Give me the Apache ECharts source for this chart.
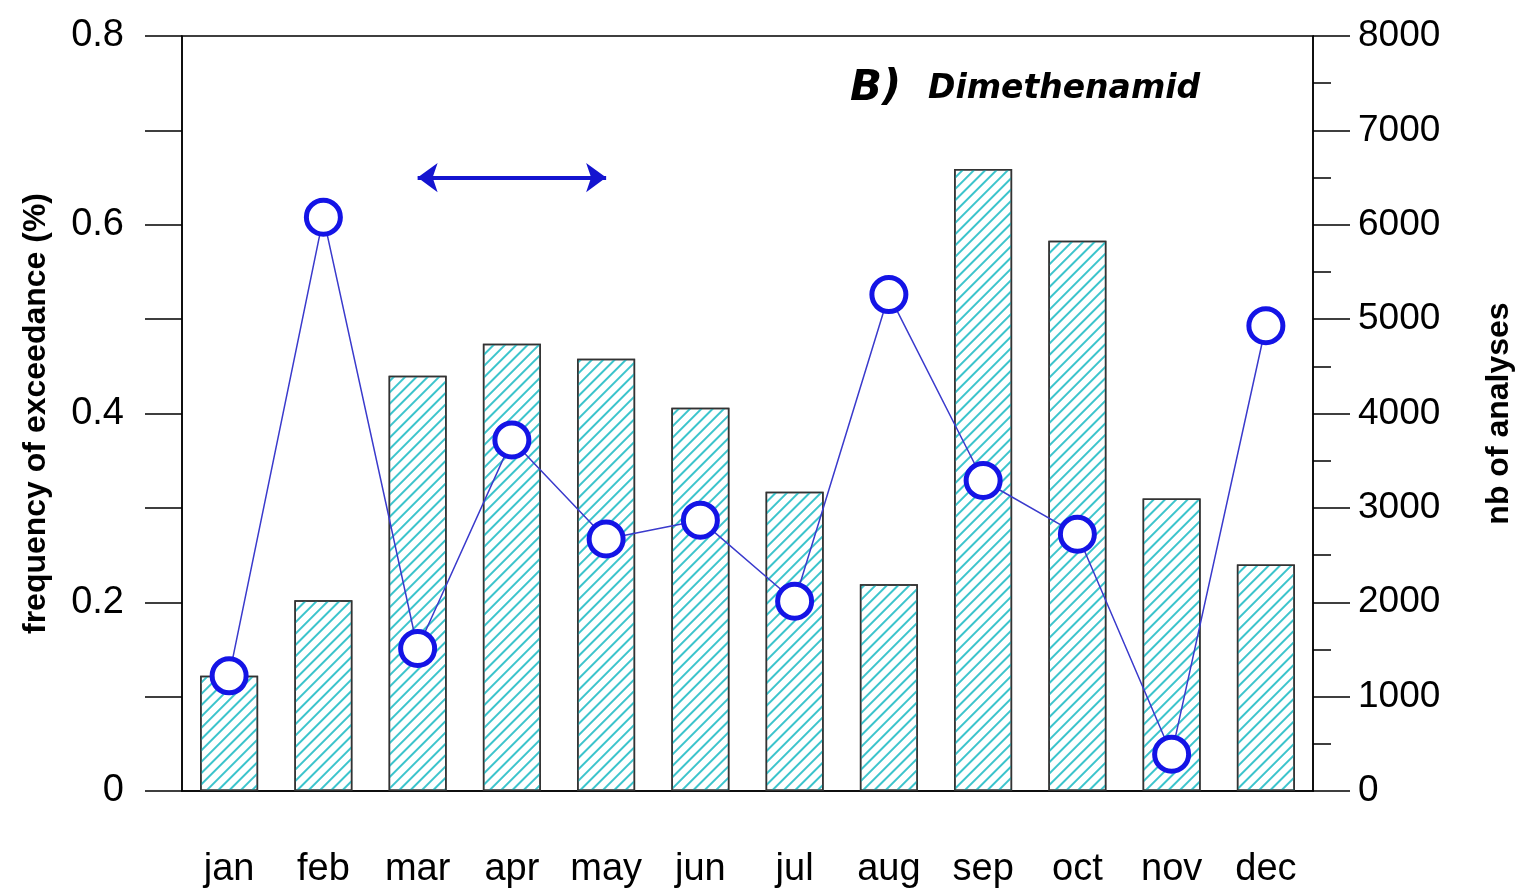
<!DOCTYPE html>
<html lang="en">
<head>
    <meta charset="UTF-8">
    <title>Dimethenamid</title>
    <script src="https://cdn.jsdelivr.net/npm/echarts@6/dist/echarts.min.js"></script>
</head>
<body style="margin:0">
<div id="main" style="width: 1523px; height: 895px;"></div>
</body>
<script>
    var months = ['jan', 'feb', 'mar', 'apr', 'may', 'jun', 'jul', 'aug', 'sep', 'oct', 'nov', 'dec']
    // nb of analyses (right axis, bars)
    var analyses = [1220, 2020, 4400, 4740, 4580, 4060, 3170, 2190, 6590, 5830, 3100, 2400]
    // frequency of exceedance (left axis, line)
    var frequency = [0.122, 0.608, 0.151, 0.372, 0.267, 0.287, 0.201, 0.526, 0.329, 0.272, 0.039, 0.493]
    // application period arrow
    var arrowSpan = ['mar', 'may']
    var arrowLevel = 0.65

    var font = 'Arial, "Liberation Sans", sans-serif'
    var myChart = echarts.init(document.getElementById("main"))
    var option = {
        animation: false,
        textStyle: { fontFamily: font },
        grid: { left: 182, right: 209, top: 36, bottom: 104, show: true, borderColor: '#000', borderWidth: 1.5 },
        graphic: [{
            type: 'text', left: 850, top: 68,
            style: { text: 'B)', font: 'italic bold 42px "DejaVu Sans"', fill: '#000' }
        }, {
            type: 'text', left: 928, top: 73,
            style: { text: 'Dimethenamid', font: 'italic bold 33px "DejaVu Sans"', fill: '#000' }
        }],
        xAxis: {
            type: 'category',
            data: months,
            axisLine: { lineStyle: { color: '#000', width: 1.5 } },
            axisTick: { alignWithLabel: true, length: 38, lineStyle: { color: '#000', width: 1.5 } },
            axisLabel: { color: '#000', fontSize: 38, margin: 60 }
        },
        yAxis: [{
            type: 'value', min: 0, max: 0.8, interval: 0.1,
            name: 'frequency of exceedance (%)',
            nameLocation: 'middle', nameGap: 130,
            nameTextStyle: { fontSize: 32, fontWeight: 'bold', color: '#000' },
            axisLine: { show: true, lineStyle: { color: '#000', width: 1.5 } },
            axisTick: { show: true, length: 37, lineStyle: { color: '#000', width: 1.5 } },
            axisLabel: {
                color: '#000', fontSize: 38, margin: 58,
                formatter: function (v) {
                    var r = Math.round(v * 10)
                    if (r % 2 !== 0) return ''
                    return r === 0 ? '0' : (r / 10).toFixed(1)
                }
            },
            splitLine: { show: false }
        }, {
            type: 'value', min: 0, max: 8000, interval: 1000,
            name: 'nb of analyses',
            nameLocation: 'middle', nameGap: 170, nameRotate: 90,
            nameTextStyle: { fontSize: 32, fontWeight: 'bold', color: '#000' },
            axisLine: { show: true, lineStyle: { color: '#000', width: 1.5 } },
            axisTick: { show: true, length: 37, lineStyle: { color: '#000', width: 1.5 } },
            minorTick: { show: true, splitNumber: 2, length: 18, lineStyle: { color: '#000', width: 1.5 } },
            axisLabel: { color: '#000', fontSize: 37, margin: 45, formatter: function (v) { return String(v) } },
            splitLine: { show: false }
        }],
        series: [{
            type: 'bar',
            yAxisIndex: 1,
            data: analyses,
            barWidth: 58,
            itemStyle: {
                color: '#ffffff',
                borderColor: '#333',
                borderWidth: 1.5,
                decal: {
                    symbol: 'rect',
                    symbolSize: 1,
                    color: '#3cc4cc',
                    dashArrayX: [1, 0],
                    dashArrayY: [2, 6],
                    rotation: -Math.PI / 4
                }
            },
            z: 1
        }, {
            type: 'line',
            yAxisIndex: 0,
            data: frequency,
            symbol: 'circle',
            symbolSize: 34,
            lineStyle: { color: '#3a3acc', width: 1.5 },
            itemStyle: { color: '#fff', borderColor: '#1414e6', borderWidth: 5 },
            z: 3,
            markLine: {
                silent: true,
                symbol: ['arrow', 'arrow'],
                symbolSize: [22, 20],
                label: { show: false },
                lineStyle: { color: '#1414d0', width: 4, type: 'solid' },
                data: [[
                    { coord: [arrowSpan[0], arrowLevel] },
                    { coord: [arrowSpan[1], arrowLevel] }
                ]]
            }
        }]
    };
    myChart.setOption(option);
</script>
</html>
